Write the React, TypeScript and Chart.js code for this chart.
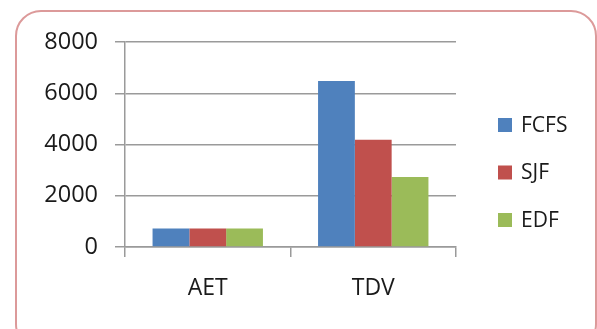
import React, { useEffect, useRef } from "react";
import { Chart, registerables } from "chart.js";

Chart.register(...registerables);

const categories = ["AET", "TDV"];
const seriesNames = ["FCFS", "SJF", "EDF"];
const fcfsValues = [720, 6480];
const sjfValues = [720, 4190];
const edfValues = [720, 2730];
const yMin = 0;
const yMax = 8000;
const yStep = 2000;
const seriesColors = ["#4F81BD", "#C0504D", "#9BBB59"];

const FONT = "'Open Sans', 'Liberation Sans', sans-serif";
const GRID = "#9a9a9a";

const legendPlugin = {
  id: "sideLegend",
  afterDraw(chart: any) {
    const ctx = chart.ctx;
    const boxX = 498;
    const box = 14;
    const startY = 125;
    const gap = 47.5;
    ctx.save();
    ctx.font = `21px ${FONT}`;
    ctx.textBaseline = "middle";
    ctx.textAlign = "left";
    chart.data.datasets.forEach((ds: any, i: number) => {
      const cy = startY + i * gap;
      ctx.fillStyle = ds.backgroundColor;
      ctx.fillRect(boxX, cy - box / 2, box, box);
      ctx.fillStyle = "#1a1a1a";
      ctx.fillText(ds.label, boxX + box + 9, cy + 1);
    });
    ctx.restore();
  },
};

export default function App() {
  const ref = useRef<HTMLCanvasElement | null>(null);

  useEffect(() => {
    if (!ref.current) return;
    const values = [fcfsValues, sjfValues, edfValues];
    const chart = new Chart(ref.current, {
      type: "bar",
      data: {
        labels: categories,
        datasets: seriesNames.map((name, i) => ({
          label: name,
          data: values[i],
          backgroundColor: seriesColors[i],
          borderWidth: 0,
          categoryPercentage: 0.667,
          barPercentage: 1,
        })),
      },
      options: {
        responsive: false,
        animation: false,
        layout: { padding: { top: 42, right: 141, left: 0, bottom: 0 } },
        plugins: {
          legend: { display: false },
          tooltip: { enabled: false },
        },
        scales: {
          x: {
            grid: {
              offset: true,
              drawOnChartArea: false,
              drawTicks: true,
              tickLength: 10,
              color: GRID,
              lineWidth: 1.5,
            },
            border: { display: true, color: GRID, width: 1.5 },
            ticks: {
              color: "#1a1a1a",
              font: { family: FONT, size: 23 },
              padding: 18,
            },
            afterFit(scale: any) {
              scale.height = 82;
            },
          },
          y: {
            min: yMin,
            max: yMax,
            grid: {
              color: GRID,
              lineWidth: 1.5,
              drawTicks: true,
              tickLength: 10,
            },
            border: { display: true, color: GRID, width: 1.5 },
            ticks: {
              stepSize: yStep,
              color: "#1a1a1a",
              font: { family: FONT, size: 23.5 },
              padding: 17,
              callback: (value: any) => String(value),
            },
            afterFit(scale: any) {
              scale.width = 125;
            },
          },
        },
      },
      plugins: [legendPlugin],
    });
    return () => chart.destroy();
  }, []);

  return (
    <div
      style={{
        position: "fixed",
        left: 0,
        top: 0,
        width: 597,
        height: 329,
        overflow: "hidden",
        background: "#fff",
      }}
    >
      <div
        style={{
          position: "absolute",
          left: 15,
          top: 10,
          width: 582,
          height: 340,
          boxSizing: "border-box",
          border: "2px solid #dc9a9a",
          borderRadius: 26,
        }}
      />
      <canvas
        ref={ref}
        width={597}
        height={329}
        style={{ position: "absolute", left: 0, top: 0, width: 597, height: 329 }}
      />
    </div>
  );
}
